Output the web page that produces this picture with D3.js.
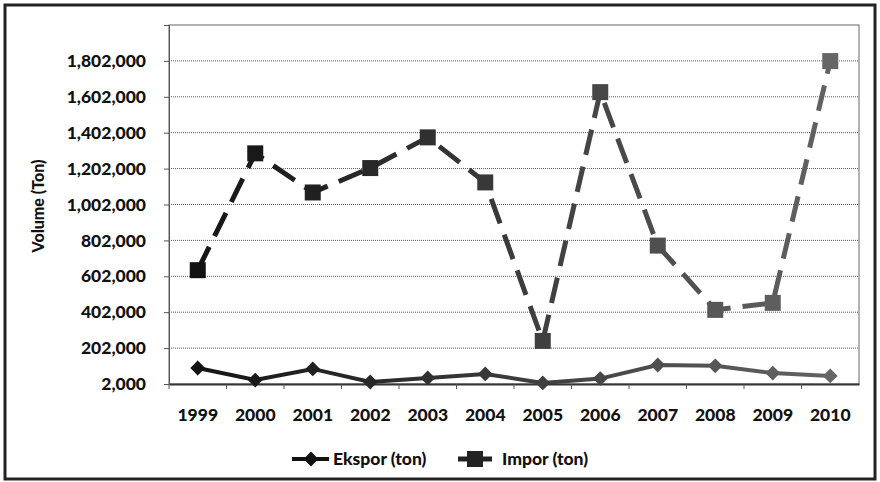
<!DOCTYPE html>
<html>
<head>
<meta charset="utf-8">
<script src="https://cdn.jsdelivr.net/npm/d3@7"></script>
<style>
  body { margin: 0; background: #fff; }
  svg text { font-family: Lato, "Open Sans", sans-serif; font-weight: 900; fill: #111; }
</style>
</head>
<body>
<div id="chart"></div>
<script>
var years = ['1999', '2000', '2001', '2002', '2003', '2004', '2005', '2006', '2007', '2008', '2009', '2010'];
var ekspor = [91000, 24000, 86000, 13000, 36000, 58000, 8000, 32000, 108000, 103000, 63000, 47000];
var impor = [636000, 1287000, 1069000, 1205000, 1376000, 1125000, 242000, 1628000, 773000, 415000, 454000, 1801000];
var y_ticks = [2000, 202000, 402000, 602000, 802000, 1002000, 1202000, 1402000, 1602000, 1802000];
var series_names = ['Ekspor (ton)', 'Impor (ton)'];

var width = 880, height = 482;
var plot = {left: 169, top: 25, right: 859, bottom: 384};

var svg = d3.select('#chart').append('svg')
    .attr('width', width)
    .attr('height', height);

// outer frame
svg.append('rect')
    .attr('x', 5).attr('y', 5)
    .attr('width', 870).attr('height', 474)
    .attr('fill', 'none')
    .attr('stroke', '#222')
    .attr('stroke-width', 3);

var x = d3.scaleBand()
    .domain(years)
    .range([plot.left, plot.right]);

var y = d3.scaleLinear()
    .domain([2000, 2002000])
    .range([plot.bottom, plot.top]);

// grid lines
svg.append('g')
    .selectAll('line')
    .data(y_ticks.slice(1))
    .enter()
    .append('line')
    .attr('x1', plot.left).attr('x2', plot.right)
    .attr('y1', function(d) { return y(d); })
    .attr('y2', function(d) { return y(d); })
    .attr('stroke', '#555')
    .attr('stroke-width', 1)
    .attr('stroke-dasharray', '1,1');

// plot area border
svg.append('rect')
    .attr('x', plot.left).attr('y', plot.top)
    .attr('width', plot.right - plot.left)
    .attr('height', plot.bottom - plot.top)
    .attr('fill', 'none')
    .attr('stroke', '#666')
    .attr('stroke-width', 1);

// y axis
var yAxis = svg.append('g')
    .attr('transform', 'translate(' + plot.left + ',0)')
    .call(d3.axisLeft(y).tickValues(y_ticks).tickFormat(d3.format(',')).tickSize(5).tickPadding(18));
yAxis.select('.domain').attr('stroke', '#555');
yAxis.selectAll('.tick line').attr('stroke', '#555');
yAxis.selectAll('text').style('font-size', '17.5px');

// x axis, ticks on band edges
var xAxis = svg.append('g')
    .attr('transform', 'translate(0,' + plot.bottom + ')')
    .call(d3.axisBottom(x).tickSize(0).tickPadding(25));
xAxis.select('.domain').attr('stroke', '#333').attr('stroke-width', 2);
xAxis.selectAll('text').style('font-size', '17.5px');
svg.append('g')
    .selectAll('line')
    .data(years)
    .enter()
    .append('line')
    .attr('x1', function(d) { return x(d); })
    .attr('x2', function(d) { return x(d); })
    .attr('y1', plot.bottom).attr('y2', plot.bottom + 5)
    .attr('stroke', '#555');

// y label
svg.append('text')
    .attr('transform', 'translate(44,206) rotate(-90)')
    .attr('text-anchor', 'middle')
    .style('font-size', '16px')
    .text('Volume (Ton)');

var cx = function(d, i) { return x(years[i]) + x.bandwidth() / 2; };
// scan fades from dark on the left to grey on the right
var shade = d3.scaleLinear().domain([0, years.length - 1]).range(['#111', '#666']);

var defs = svg.append('defs');
var grad = defs.append('linearGradient')
    .attr('id', 'fade')
    .attr('gradientUnits', 'userSpaceOnUse')
    .attr('x1', plot.left).attr('x2', plot.right)
    .attr('y1', 0).attr('y2', 0);
grad.append('stop').attr('offset', '0%').attr('stop-color', '#111');
grad.append('stop').attr('offset', '100%').attr('stop-color', '#666');

var line = d3.line()
    .x(cx)
    .y(function(d) { return y(d); });

// Impor: long dashed line with squares
svg.append('path')
    .datum(impor)
    .attr('d', line)
    .attr('fill', 'none')
    .attr('stroke', 'url(#fade)')
    .attr('stroke-width', 5)
    .attr('stroke-dasharray', '26,12');

svg.append('g')
    .selectAll('rect')
    .data(impor)
    .enter()
    .append('rect')
    .attr('x', function(d, i) { return cx(d, i) - 8; })
    .attr('y', function(d) { return y(d) - 8; })
    .attr('width', 16).attr('height', 16)
    .attr('fill', function(d, i) { return shade(i); });

// Ekspor: solid line with diamonds
svg.append('path')
    .datum(ekspor)
    .attr('d', line)
    .attr('fill', 'none')
    .attr('stroke', 'url(#fade)')
    .attr('stroke-width', 4);

var diamond = d3.symbol().type(d3.symbolSquare).size(110);
svg.append('g')
    .selectAll('path')
    .data(ekspor)
    .enter()
    .append('path')
    .attr('d', diamond)
    .attr('transform', function(d, i) { return 'translate(' + cx(d, i) + ',' + y(d) + ') rotate(45)'; })
    .attr('fill', function(d, i) { return shade(i); });

// legend
var legend = svg.append('g').attr('transform', 'translate(0,459)');
legend.append('line')
    .attr('x1', 292).attr('x2', 329).attr('y1', 0).attr('y2', 0)
    .attr('stroke', '#111').attr('stroke-width', 4);
legend.append('path')
    .attr('d', diamond)
    .attr('transform', 'translate(311,0) rotate(45)')
    .attr('fill', '#111');
legend.append('text')
    .attr('x', 333).attr('y', 6)
    .style('font-size', '17.5px')
    .text(series_names[0]);
legend.append('line')
    .attr('x1', 458).attr('x2', 492).attr('y1', 0).attr('y2', 0)
    .attr('stroke', '#222').attr('stroke-width', 5);
legend.append('rect')
    .attr('x', 467).attr('y', -8).attr('width', 16).attr('height', 16)
    .attr('fill', '#222');
legend.append('text')
    .attr('x', 502).attr('y', 6)
    .style('font-size', '17.5px')
    .text(series_names[1]);
</script>
</body>
</html>
